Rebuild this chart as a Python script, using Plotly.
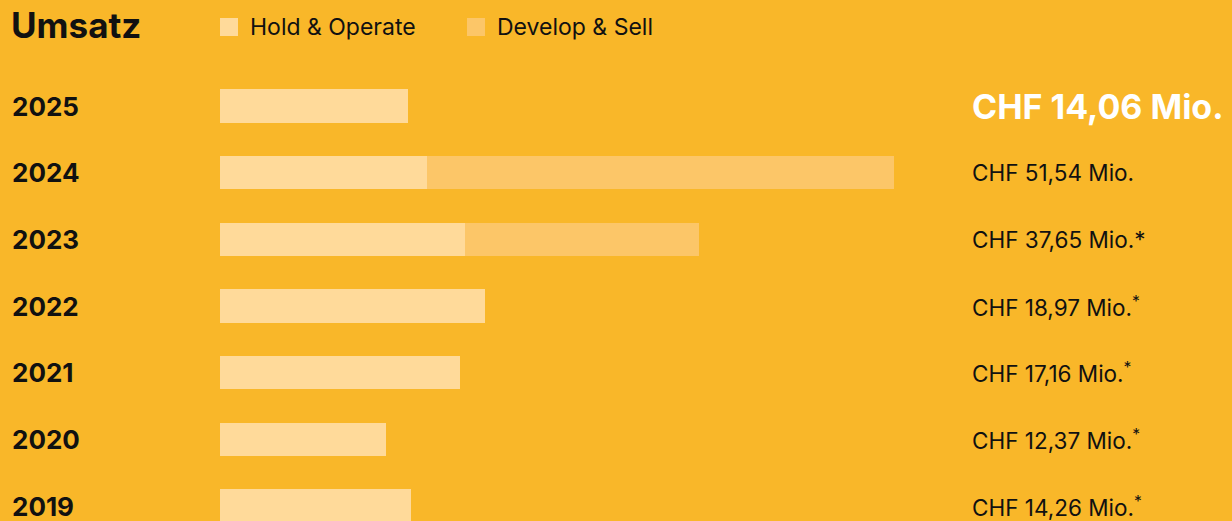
import plotly.graph_objects as go

years = ["2025", "2024", "2023", "2022", "2021", "2020", "2019"]
hold_operate = [14.37, 15.83, 18.73, 20.26, 18.35, 12.69, 14.60]
develop_sell = [0, 35.71, 17.89, 0, 0, 0, 0]
value_labels = [
    "CHF 14,06 Mio.",
    "CHF 51,54 Mio.",
    "CHF 37,65 Mio.*",
    "CHF 18,97 Mio.<sup>*</sup>",
    "CHF 17,16 Mio.<sup>*</sup>",
    "CHF 12,37 Mio.<sup>*</sup>",
    "CHF 14,26 Mio.<sup>*</sup>",
]
series_names = ["Hold & Operate", "Develop & Sell"]

BG = "#F9B729"
C_HOLD = "#FFDA9A"
C_DEV = "#FCC668"
FONT = "Inter"

W, H = 1232, 521
px_per_unit = 13.08
x0_px = 220
row_px = 66.67
first_row_px = 106

fig = go.Figure()
for name, vals, col in [(series_names[0], hold_operate, C_HOLD), (series_names[1], develop_sell, C_DEV)]:
    fig.add_trace(go.Bar(
        y=list(range(len(years))), x=vals, orientation="h",
        name=name, marker=dict(color=col, line=dict(width=0)),
        width=0.5, hoverinfo="skip", showlegend=False,
    ))

annotations = []
shapes = []
annotations.append(dict(
    text="<b>Umsatz</b>", xref="paper", yref="paper",
    x=9 / W, y=1 - 25 / H, xanchor="left", yanchor="middle",
    showarrow=False, font=dict(family=FONT, size=35, color="#111111"),
))
# legend
for name, col, sx in [(series_names[0], C_HOLD, 220), (series_names[1], C_DEV, 467)]:
    shapes.append(dict(type="rect", xref="paper", yref="paper",
                       x0=sx / W, x1=(sx + 18) / W, y0=1 - 36 / H, y1=1 - 18 / H,
                       fillcolor=col, line=dict(width=0)))
    annotations.append(dict(
        text=name, xref="paper", yref="paper",
        x=(sx + 28) / W, y=1 - 27 / H, xanchor="left", yanchor="middle",
        showarrow=False, font=dict(family=FONT, size=23, color="#111111"),
    ))
for i, (yr, lab) in enumerate(zip(years, value_labels)):
    annotations.append(dict(
        text=f"<b>{yr}</b>", xref="paper", yref="y",
        x=10 / W, y=i, xanchor="left", yanchor="middle",
        showarrow=False, font=dict(family=FONT, size=26, color="#111111"),
    ))
    if i == 0:
        f = dict(family=FONT, size=34, color="#FFFFFF")
        t = f"<b>{lab}</b>"
    else:
        f = dict(family=FONT, size=22.5, color="#111111")
        t = lab
    annotations.append(dict(
        text=t, xref="paper", yref="y",
        x=970 / W, y=i, xanchor="left", yanchor="middle",
        showarrow=False, font=f,
    ))

r0 = -first_row_px / row_px
r1 = r0 + H / row_px

fig.update_layout(
    width=W, height=H,
    barmode="stack",
    paper_bgcolor=BG, plot_bgcolor=BG,
    margin=dict(l=0, r=0, t=0, b=0),
    xaxis=dict(range=[-x0_px / px_per_unit, (W - x0_px) / px_per_unit],
               visible=False, fixedrange=True),
    yaxis=dict(range=[r1, r0], visible=False, fixedrange=True),
    showlegend=False,
    annotations=annotations,
    shapes=shapes,
    bargap=0,
)

fig.write_html("out.html", config={"displayModeBar": False},
               post_script="document.body.style.margin='0';document.body.style.background='%s';" % BG)
